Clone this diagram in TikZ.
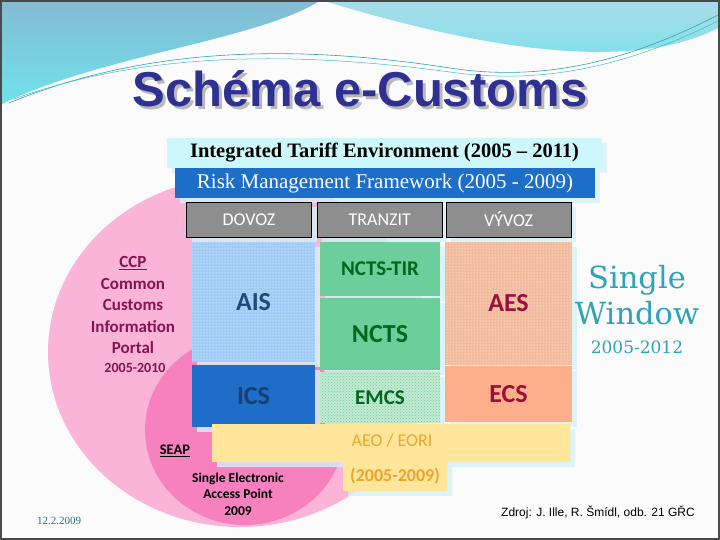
\documentclass[tikz,border=0pt]{standalone}
\usepackage{fontspec}
\setmainfont{Liberation Serif}
\setsansfont{Carlito}
\newfontfamily\arialfont{Liberation Sans}
\newfontfamily\slabfont{DejaVu Serif}
\usetikzlibrary{positioning,patterns,shadows}

\definecolor{titleblue}{HTML}{2E3192}
\definecolor{pinklight}{HTML}{F9B4D8}
\definecolor{pinkdark}{HTML}{F681BE}
\definecolor{itecyan}{HTML}{CCF8FB}
\definecolor{riskblue}{HTML}{1C6EC6}
\definecolor{headgray}{HTML}{8E8E8E}
\definecolor{aisblue}{HTML}{9FCBF6}
\definecolor{aistext}{HTML}{1F4A7E}
\definecolor{icsblue}{HTML}{1E6DC9}
\definecolor{icstext}{HTML}{1A3F6F}
\definecolor{nctsgreen}{HTML}{6CCE9B}
\definecolor{emcsgreen}{HTML}{C4EAD4}
\definecolor{greentext}{HTML}{00681C}
\definecolor{aessalmon}{HTML}{F3BB9D}
\definecolor{ecssalmon}{HTML}{FDAE8A}
\definecolor{redtext}{HTML}{99103D}
\definecolor{aeoyellow}{HTML}{FFE69B}
\definecolor{aeotext}{HTML}{EAA52A}
\definecolor{ccptext}{HTML}{851452}
\definecolor{swteal}{HTML}{2EA3B9}
\definecolor{datetext}{HTML}{2C6F82}
\definecolor{shadecyan}{HTML}{D5F1F7}
\definecolor{waveblue}{HTML}{84BAD3}
\definecolor{wavecyan}{HTML}{6FE2EB}
\definecolor{wavelight}{HTML}{A8DCE9}
\definecolor{framegray}{HTML}{4A4A4A}

\begin{document}
\begin{tikzpicture}[x=1pt,y=-1pt]
    % slide: e-Customs systems
    % - columns import / transit / export
    % - portals drawn as pink discs behind
    \tikzset{cell/.style = {shape=rectangle,inner sep=0pt,
        drop shadow={shadow xshift=5pt,shadow yshift=-5pt,fill=shadecyan,opacity=.8}}}
    \tikzset{head/.style = {cell,draw=black,line width=.8pt,fill=headgray,text=white,
        minimum width=125pt,minimum height=35pt,font=\sffamily\fontsize{18}{18}\selectfont}}
    \tikzset{big/.style = {font=\sffamily\bfseries\fontsize{26}{26}\selectfont}}
    \tikzset{mid/.style = {font=\sffamily\bfseries\fontsize{21}{21}\selectfont}}
    \tikzset{dotcell/.style = {postaction={pattern=dots,pattern color=white}}}
    \tikzset{note/.style = {inner sep=0pt,align=center}}

    % background and frame
    \fill[white!97!gray] (0,0) rectangle (720,540);
    \useasboundingbox (0,0) rectangle (720,540);

    % top waves
    \shade[top color=waveblue,bottom color=wavecyan]
        (0,0) -- (321,0) .. controls (260,40) and (100,55) .. (0,105) -- cycle;
    \shade[top color=wavelight,bottom color=wavecyan!80!wavelight]
        (321,0) -- (720,0) -- (720,27) .. controls (640,70) and (500,55) .. (321,0) -- cycle;
    \draw[teal!60!wavecyan,line width=.6pt]
        (9,103) .. controls (150,45) and (300,45) .. (450,68) .. controls (560,85) and (650,50) .. (720,14);
    \draw[teal!40!wavecyan,line width=.5pt]
        (14,99) .. controls (150,50) and (300,52) .. (450,72) .. controls (560,88) and (650,55) .. (720,20);

    % title with its shadow
    \node[text=titleblue,font=\arialfont\bfseries\fontsize{49}{49}\selectfont] (title) at (360,90)
        {\rlap{\hspace{3pt}\raisebox{-3pt}{\color{gray!55}Schéma e-Customs}}Schéma e-Customs};

    % portals
    \fill[pinklight] (240,352) ellipse [x radius=192pt,y radius=175pt];
    \fill[pinkdark] (245,430) ellipse [x radius=100pt,y radius=95pt];

    % frameworks on top
    \node[cell,fill=itecyan,minimum width=435pt,minimum height=30pt,
        font=\bfseries\fontsize{20.5}{20.5}\selectfont] (ite) at (384.5,153)
        {Integrated Tariff Environment (2005 – 2011)};
    \node[cell,fill=riskblue,text=white,minimum width=420pt,minimum height=30pt,
        font=\fontsize{21}{21}\selectfont] (risk) at (385,183)
        {Risk Management Framework (2005 - 2009)};

    % column heads
    \node[head] (dovoz) at (249,219.5) {DOVOZ};
    \node[head] (tranzit) [right=5pt of dovoz] {TRANZIT};
    \node[head] (vyvoz) [right=3pt of tranzit] {VÝVOZ};

    % import
    \node[cell,big,fill=aisblue,dotcell,text=aistext,minimum width=123pt,minimum height=120pt]
        (ais) at (253.5,302) {AIS};
    \node[cell,big,fill=icsblue,text=icstext,minimum width=123pt,minimum height=62pt]
        (ics) [below=3pt of ais] {ICS};

    % transit
    \node[cell,mid,fill=nctsgreen,text=greentext,minimum width=120pt,minimum height=54pt]
        (tir) at (380,269) {NCTS-TIR};
    \node[cell,big,fill=nctsgreen,text=greentext,minimum width=120pt,minimum height=72pt]
        (ncts) [below=2pt of tir] {NCTS};
    \node[cell,mid,fill=emcsgreen,text=greentext,minimum width=120pt,minimum height=51pt,
        postaction={pattern=crosshatch dots,pattern color=nctsgreen}]
        (emcs) [below=1pt of ncts] {EMCS};

    % export
    \node[cell,big,fill=aessalmon,dotcell,text=redtext,minimum width=127pt,minimum height=123pt]
        (aes) at (508.5,303.5) {AES};
    \node[cell,big,fill=ecssalmon,text=redtext,minimum width=127pt,minimum height=56pt]
        (ecs) [below=1pt of aes] {ECS};

    % operators
    \fill[aeoyellow,drop shadow={shadow xshift=5pt,shadow yshift=-5pt,fill=shadecyan,opacity=.8}]
        (212,424) -- (570,424) -- (570,462) -- (447,462) -- (447,491)
        -- (343,491) -- (343,462) -- (212,462) -- cycle;
    \node[note,text=aeotext,font=\sffamily\fontsize{18}{18}\selectfont] (aeo) at (392,441)
        {AEO / EORI};
    \node[note,text=aeotext,font=\sffamily\bfseries\fontsize{18}{18}\selectfont] (aeoyears)
        at (395,476) {(2005-2009)};

    % portal texts
    \node[note,text=ccptext,font=\sffamily\bfseries\fontsize{17}{21.5}\selectfont] (ccp) at (133,305)
        {\underline{CCP}\\Common\\Customs\\Information\\Portal};
    \node[note,text=ccptext,font=\sffamily\bfseries\fontsize{14}{14}\selectfont] (ccpyears) at (135,368)
        {2005-2010};
    \node[note,font=\sffamily\bfseries\fontsize{14.5}{14.5}\selectfont] (seap) at (175,451)
        {\underline{SEAP}};
    \node[note,font=\sffamily\bfseries\fontsize{13.5}{16.5}\selectfont] (seapname) at (238,494)
        {Single Electronic\\Access Point\\2009};

    % single window
    \node[note,text=swteal,font=\slabfont\fontsize{30.5}{36}\selectfont] (sw) at (637,295)
        {Single\\Window};
    \node[note,text=swteal,font=\slabfont\fontsize{17}{17}\selectfont] (swyears) at (637,347)
        {2005-2012};

    % footer
    \node[note,text=datetext,font=\fontsize{11}{11}\selectfont] (date) at (59,521) {12.2.2009};
    \node[note,font=\arialfont\fontsize{12}{12}\selectfont] (source) at (598,512)
        {Zdroj: J. Ille, R. Šmídl, odb. 21 GŘC};

    \draw[framegray,line width=2pt] (1,1) rectangle (719,539);
\end{tikzpicture}
\end{document}
